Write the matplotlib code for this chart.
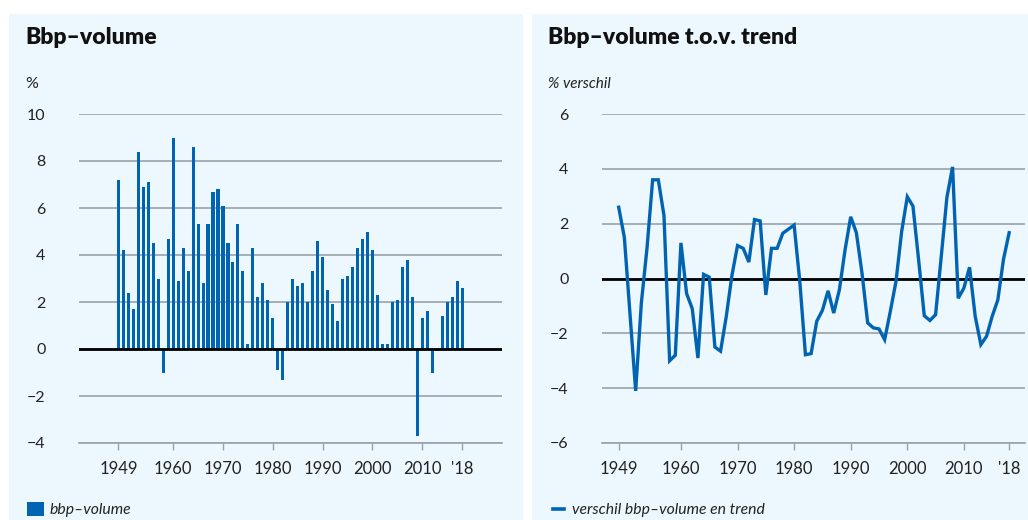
import numpy as np
import matplotlib
matplotlib.use('Agg')
import matplotlib.pyplot as plt
from matplotlib.patches import Rectangle
from matplotlib.lines import Line2D

plt.rcParams['font.family'] = ['Lato', 'DejaVu Sans']

years = np.arange(1949, 2019)

# bbp-volume, % change per year
bbp_volume = [7.2, 4.2, 2.4, 1.7, 8.4, 6.9, 7.1, 4.5, 3.0, -1.0,
              4.7, 9.0, 2.9, 4.3, 3.3, 8.6, 5.3, 2.8, 5.3, 6.7,
              6.8, 6.1, 4.5, 3.7, 5.3, 3.3, 0.2, 4.3, 2.2, 2.8,
              2.1, 1.3, -0.9, -1.3, 2.0, 3.0, 2.7, 2.8, 2.0, 3.3,
              4.6, 3.9, 2.5, 1.9, 1.2, 3.0, 3.1, 3.5, 4.3, 4.7,
              5.0, 4.2, 2.3, 0.2, 0.2, 2.0, 2.1, 3.5, 3.8, 2.2,
              -3.7, 1.3, 1.6, -1.0, -0.1, 1.4, 2.0, 2.2, 2.9, 2.6]

# verschil bbp-volume en trend, %
verschil_trend = [2.6, 1.5, -1.3, -4.1, -0.9, 1.1, 3.6, 3.6, 2.3, -3.0,
                  -2.8, 1.3, -0.55, -1.1, -2.9, 0.15, 0.05, -2.5, -2.65, -1.4,
                  0.1, 1.2, 1.1, 0.6, 2.15, 2.1, -0.6, 1.1, 1.1, 1.65,
                  1.8, 1.95, -0.1, -2.78, -2.74, -1.56, -1.16, -0.45, -1.26, -0.41,
                  1.04, 2.25, 1.67, 0.19, -1.62, -1.8, -1.84, -2.23, -1.2, -0.11,
                  1.71, 2.98, 2.64, 0.68, -1.36, -1.53, -1.32, 0.8, 2.96, 4.07,
                  -0.72, -0.35, 0.41, -1.38, -2.41, -2.11, -1.38, -0.78, 0.7, 1.67]

tick_years = [1949, 1960, 1970, 1980, 1990, 2000, 2010, 2018]
tick_labels = ['1949', '1960', '1970', '1980', '1990', '2000', '2010', "'18"]

blue = '#0064B2'
panel = '#EDF7FE'
grid = '#9AA1A9'

W, H = 1028, 520
fig = plt.figure(figsize=(W / 100, H / 100), dpi=100)
fig.patch.set_facecolor('white')

# background panels
fig.add_artist(Rectangle((9 / W, 0), (523 - 9) / W, 1 - 14 / H, transform=fig.transFigure,
                         facecolor=panel, edgecolor='none', zorder=0))
fig.add_artist(Rectangle((532 / W, 0), (W - 532) / W, 1 - 14 / H, transform=fig.transFigure,
                         facecolor=panel, edgecolor='none', zorder=0))


def style_axes(ax, ymin, ymax, step):
    ax.patch.set_visible(False)
    for s in ['top', 'right', 'left']:
        ax.spines[s].set_visible(False)
    ax.spines['bottom'].set_color(grid)
    ax.spines['bottom'].set_linewidth(1.2)
    ax.set_ylim(ymin, ymax)
    ax.set_yticks(np.arange(ymin, ymax + 1, step))
    ax.set_yticklabels([str(v).replace('-', '\u2212') for v in np.arange(ymin, ymax + 1, step)])
    ax.yaxis.grid(True, color=grid, linewidth=1.2)
    ax.set_axisbelow(True)
    ax.tick_params(axis='y', length=0, pad=24, labelsize=11.5, labelcolor='#222222')
    ax.tick_params(axis='x', length=5, width=1, color=grid, pad=8, labelsize=12, labelcolor='#222222')
    ax.set_xticks(tick_years)
    ax.set_xticklabels(tick_labels)
    ax.axhline(0, color='black', linewidth=2, zorder=3)


# left: bars
ax1 = fig.add_axes([79 / W, 1 - 443 / H, (502 - 79) / W, (443 - 114) / H])
ax1.bar(years, bbp_volume, width=0.62, color=blue, zorder=2)
ax1.set_xlim(1941.1, 2026.0)
style_axes(ax1, -4, 10, 2)

# right: line
ax2 = fig.add_axes([602 / W, 1 - 443 / H, (1025 - 602) / W, (443 - 114) / H])
ax2.plot(years, verschil_trend, color=blue, linewidth=2.4, zorder=4, solid_joinstyle='miter')
ax2.set_xlim(1946.05, 2020.8)
style_axes(ax2, -6, 6, 2)

# titles and units
fig.text(25 / W, 1 - 38 / H, 'Bbp\u2013volume', fontsize=16.5, fontweight='heavy', va='center', color='#111111')
fig.text(548 / W, 1 - 38 / H, 'Bbp\u2013volume t.o.v. trend', fontsize=16.5, fontweight='heavy', va='center', color='#111111')
fig.text(25 / W, 1 - 84 / H, '%', fontsize=11.5, va='center', color='#222222')
fig.text(548 / W, 1 - 84 / H, '% verschil', fontsize=11, style='italic', va='center', color='#222222')

# legends
fig.add_artist(Rectangle((27 / W, 1 - 516 / H), 17 / W, 14 / H, transform=fig.transFigure,
                         facecolor=blue, edgecolor='none'))
fig.text(50 / W, 1 - 510 / H, 'bbp\u2013volume', fontsize=11.3, style='italic', va='center', color='#222222')
fig.add_artist(Line2D([553 / W, 564 / W], [1 - 509 / H, 1 - 509 / H], transform=fig.transFigure,
                      color=blue, linewidth=2.6))
fig.text(572 / W, 1 - 510 / H, 'verschil bbp\u2013volume en trend', fontsize=11.3, style='italic',
         va='center', color='#222222')

fig.savefig('out.png', dpi=100, facecolor='white')
